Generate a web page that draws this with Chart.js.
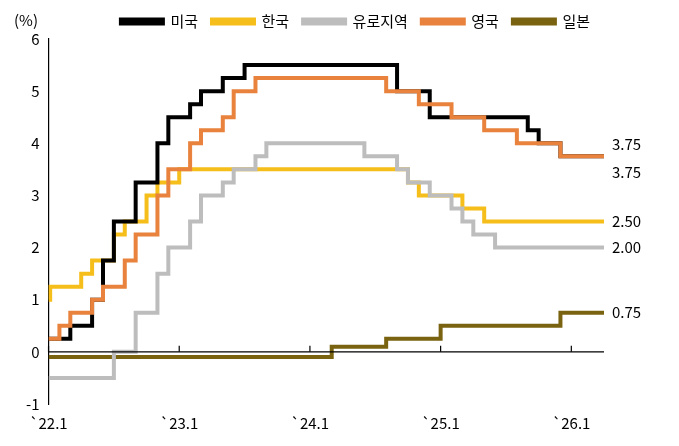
<!DOCTYPE html>
<html><head><meta charset="utf-8">
<script src="https://cdn.jsdelivr.net/npm/chart.js@4"></script>
<style>html,body{margin:0;padding:0;background:#fff}#w{width:679px;height:446px}</style>
</head><body><div id="w"><canvas id="c"></canvas></div>
<script>
const names = ['미국','한국','유로지역','영국','일본'];
const colors = ['#000000','#F5BE1A','#BDBDBD','#E8823C','#7A6310'];
// month index: 0 = 2022.1
const usM = [0,2,4,5,6,8,10,11,13,14,16,18,32,35,44,45,47,51];
const usV = [0.25,0.5,1.0,1.75,2.5,3.25,4.0,4.5,4.75,5.0,5.25,5.5,5.0,4.5,4.25,4.0,3.75,3.75];
const krM = [0,0.15,3,4,6,7,9,10,12,33,34,38,40,51];
const krV = [1.0,1.25,1.5,1.75,2.25,2.5,3.0,3.25,3.5,3.25,3.0,2.75,2.5,2.5];
const euM = [0,6,8,10,11,13,14,16,17,19,20,29,32,33,35,37,38,39,41,51];
const euV = [-0.5,0.0,0.75,1.5,2.0,2.5,3.0,3.25,3.5,3.75,4.0,3.75,3.5,3.25,3.0,2.75,2.5,2.25,2.0,2.0];
const ukM = [0,1,2,4,5,7,8,10,11,13,14,16,17,19,31,34,37,40,43,47,51];
const ukV = [0.25,0.5,0.75,1.0,1.25,1.75,2.25,3.0,3.5,4.0,4.25,4.5,5.0,5.25,5.0,4.75,4.5,4.25,4.0,3.75,3.75];
const jpM = [0,26,31,36,47,51];
const jpV = [-0.1,0.1,0.25,0.5,0.75,0.75];
const xTickMonths = [0,12,24,36,48];
const xTickLabels = ['`22.1','`23.1','`24.1','`25.1','`26.1'];
const endLabels = ['3.75','2.50','2.00','3.75','0.75'];
const endLabelOffsets = [-12,0,0,16,0];
const FONT = "'Noto Sans CJK KR','Noto Sans',sans-serif";

const series = [[usM,usV],[krM,krV],[euM,euV],[ukM,ukV],[jpM,jpV]];
const order = [3,4,2,1,5];
const datasets = series.map((s,i)=>({
  label:names[i], data:s[0].map((m,k)=>({x:m,y:s[1][k]})),
  borderColor:colors[i], backgroundColor:colors[i], borderWidth:4,
  stepped:'before', pointRadius:0, fill:false, order:order[i]
}));

const deco = {
  id:'deco',
  afterDatasetsDraw(ch){
    const c=ch.ctx, x=ch.scales.x, y=ch.scales.y;
    c.save();
    c.strokeStyle='#000'; c.lineWidth=1.2;
    const y0=y.getPixelForValue(0);
    c.beginPath(); c.moveTo(x.left,y0); c.lineTo(x.right,y0); c.stroke();
    xTickMonths.forEach(m=>{const px=x.getPixelForValue(m);c.beginPath();c.moveTo(px,y0);c.lineTo(px,y0-6);c.stroke();});
    c.fillStyle='#000'; c.font="15px "+FONT; c.textBaseline='middle'; c.textAlign='left';
    series.forEach((s,i)=>{const v=s[1][s[1].length-1];c.fillText(endLabels[i],x.right+8,y.getPixelForValue(v)+endLabelOffsets[i]);});
    c.fillText('(%)',14,20);
    c.restore();
  }
};

new Chart(document.getElementById('c'),{
  type:'line',
  data:{datasets},
  options:{
    responsive:true, maintainAspectRatio:false, animation:false,
    layout:{padding:{left:22,right:75,top:0,bottom:4}},
    plugins:{
      legend:{position:'top',align:'end',
        labels:{boxWidth:42,boxHeight:4,color:'#000',font:{size:15,family:FONT},padding:14,
          sort:(a,b)=>a.datasetIndex-b.datasetIndex}},
      tooltip:{enabled:false}
    },
    scales:{
      x:{type:'linear',min:0,max:51,
        grid:{display:false,drawTicks:false},border:{display:false},
        afterBuildTicks:(s)=>{s.ticks=xTickMonths.map(v=>({value:v}));},
        ticks:{autoSkip:false,maxRotation:0,color:'#000',font:{size:15,family:FONT},padding:10,
          callback:(v)=>xTickLabels[xTickMonths.indexOf(v)]}},
      y:{min:-1,max:6,
        grid:{display:false,drawTicks:true,tickLength:5,tickColor:'#000'},
        border:{display:true,color:'#000',width:1.2},
        ticks:{stepSize:1,color:'#000',font:{size:15,family:FONT},padding:4}}
    }
  },
  plugins:[deco]
});
</script></body></html>
